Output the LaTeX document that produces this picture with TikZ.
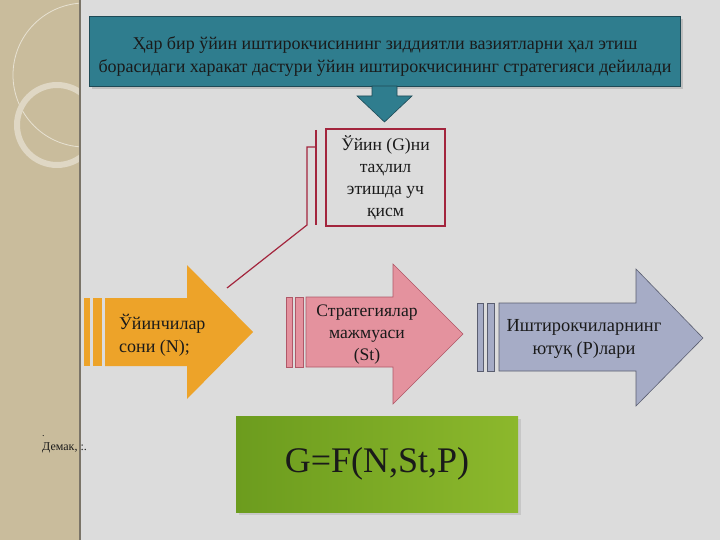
\documentclass[tikz,border=0pt]{standalone}
\usepackage{fontspec}
\setmainfont{Liberation Serif}
\definecolor{bggray}{HTML}{DCDCDC}
\definecolor{tanbg}{HTML}{C9BC9C}
\definecolor{stripdark}{HTML}{7A7468}
\definecolor{teal}{HTML}{2F7D8E}
\definecolor{tealdark}{HTML}{1E4A56}
\definecolor{calred}{HTML}{A3253D}
\definecolor{orangefill}{HTML}{EDA329}
\definecolor{pinkfill}{HTML}{E4929E}
\definecolor{pinkdark}{HTML}{B05868}
\definecolor{bluefill}{HTML}{A6ACC6}
\definecolor{bluedark}{HTML}{5A5E70}
\definecolor{greenA}{HTML}{6C9C1E}
\definecolor{greenB}{HTML}{8CB82C}
\definecolor{txt}{HTML}{1A1A1A}
\begin{document}
\begin{tikzpicture}[x=1pt,y=-1pt,
  topbox/.style={draw=tealdark, line width=0.8pt, fill=teal, minimum width=591pt, minimum height=70pt, inner sep=0pt},
  toptext/.style={align=center, text=txt, inner sep=0pt, font=\fontsize{18}{23}\selectfont},
  callbox/.style={draw=calred, line width=1.2pt, fill=bggray, minimum width=119pt, minimum height=97pt, inner sep=0pt, align=center, text=txt, font=\fontsize{17.6}{22}\selectfont},
  arrowtext/.style={text=txt, inner sep=0pt, font=\fontsize{18}{23}\selectfont},
  leader/.style={draw=calred, line width=1.2pt},
  gbox/.style={draw=none, left color=greenA, right color=greenB, minimum width=282pt, minimum height=96pt, inner sep=0pt, text=txt, font=\fontsize{36}{40}\selectfont}
]
\useasboundingbox (0,0) rectangle (720,540);
% background
\fill[bggray] (0,0) rectangle (720,540);
\fill[tanbg] (0,0) rectangle (79,540);
\begin{scope}
\clip (0,0) rectangle (79,540);
\draw[white!55!tanbg, line width=0.8pt] (85,75) circle (72);
\draw[white!40!tanbg, line width=6pt] (57,125) circle (40);
\end{scope}
\draw[stripdark, line width=2pt] (80,0) -- (80,540);

% top box
\fill[black!25] (92,19) rectangle (683,89);
\node[topbox] (top) at (384.5,51) {};
\node[toptext] (toptxt) at (385,57) {Ҳар бир ўйин иштирокчисининг зиддиятли вазиятларни ҳал этиш\\борасидаги харакат дастури ўйин иштирокчисининг стратегияси дейилади};
% down arrow
\filldraw[fill=teal, draw=tealdark, line width=0.6pt] (372,86) -- (372,96) -- (357,96) -- (384.5,122) -- (412,96) -- (397,96) -- (397,86) -- cycle;

% callout
\node[callbox] (call) at (385.5,177.5) {Ўйин (G)ни\\таҳлил\\этишда уч\\қисм};
\coordinate (bartop) at (316,130);
\coordinate (barbot) at (316,225);
\coordinate (l1) at (316,147);
\coordinate (l2) at (307,147);
\coordinate (l3) at (307,225);
\coordinate (leadend) at (227,288);
\draw[leader] (bartop) -- (barbot);
\draw[leader] (l1) -- (l2) -- (l3) -- (leadend);

% orange arrow
\fill[orangefill] (84,298) rectangle (90,366);
\fill[orangefill] (93,298) rectangle (102,366);
\fill[orangefill] (105,298) -- (187,298) -- (187,265) -- (253,332) -- (187,399) -- (187,366) -- (105,366) -- cycle;
\node[arrowtext, anchor=west, align=left] (n1) at (119,335) {Ўйинчилар\\сони (N);};

% pink arrow
\filldraw[fill=pinkfill, draw=pinkdark, line width=0.6pt] (286,297) rectangle (292,367);
\filldraw[fill=pinkfill, draw=pinkdark, line width=0.6pt] (295,297) rectangle (303,367);
\filldraw[fill=pinkfill, draw=pinkdark, line width=0.6pt] (306,297) -- (393,297) -- (393,264) -- (463,334) -- (393,404) -- (393,367) -- (306,367) -- cycle;
\node[arrowtext, align=center, font=\fontsize{17.6}{22}\selectfont] (n2) at (367,335) {Стратегиялар\\мажмуаси\\(St)};

% blue arrow
\filldraw[fill=bluefill, draw=bluedark, line width=0.6pt] (477,303) rectangle (483,371);
\filldraw[fill=bluefill, draw=bluedark, line width=0.6pt] (487,303) rectangle (494,371);
\filldraw[fill=bluefill, draw=bluedark, line width=0.6pt] (499,303) -- (636,303) -- (636,269) -- (703,338) -- (636,406) -- (636,371) -- (499,371) -- cycle;
\node[arrowtext, align=center, font=\fontsize{18.4}{23}\selectfont] (n3) at (584,339) {Иштирокчиларнинг\\ютуқ (Р)лари};

% bottom left text
\node[text=txt, inner sep=0pt, anchor=west, font=\fontsize{10}{12}\selectfont] (dot) at (42,436) {.};
\node[text=txt, inner sep=0pt, anchor=west, font=\fontsize{12}{14}\selectfont] (demak) at (42,448) {Демак, :.};

% formula box
\fill[black!22] (239,419) rectangle (521,515);
\node[gbox] (g) at (377,464) {G=F(N,St,P)};
\end{tikzpicture}
\end{document}
